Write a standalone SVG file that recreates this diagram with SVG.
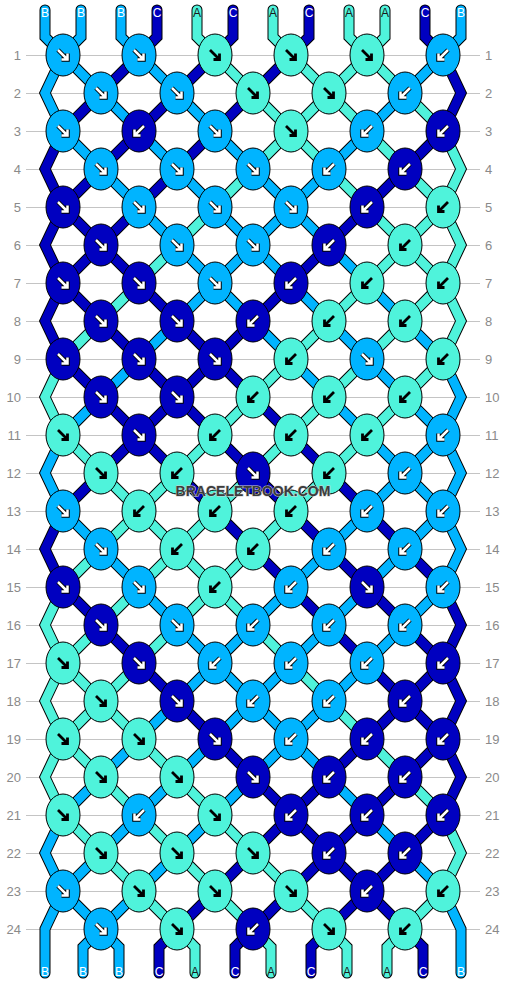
<svg xmlns="http://www.w3.org/2000/svg" xmlns:xlink="http://www.w3.org/1999/xlink" width="506" height="984" viewBox="0 0 506 984">
<style>
.gl{stroke:#c4c4c4;stroke-width:1}
.rn{font-family:"Liberation Sans",Arial,sans-serif;font-size:13px;fill:#8a8a8a}
.rl{text-anchor:end}
.o{fill:none;stroke:#000;stroke-width:11;stroke-linejoin:miter;stroke-linecap:round;stroke-miterlimit:10}
.c{fill:none;stroke-width:9;stroke-linejoin:miter;stroke-linecap:round;stroke-miterlimit:10}
.cA{stroke:#4ff3db}.cB{stroke:#00b4ff}.cC{stroke:#0000c0}
ellipse{stroke:#000;stroke-width:1}
.kA{fill:#4ff3db}.kB{fill:#00b4ff}.kC{fill:#0000c0}
.lb{font-family:"Liberation Sans",Arial,sans-serif;font-size:12px;text-anchor:middle;fill:#fff}
.lA{fill:#1a1a1a}
.wm{font-family:"Liberation Sans",Arial,sans-serif;font-size:14px;font-weight:bold;text-anchor:middle;fill:#3c3c3c;stroke:#d0d0d0;stroke-width:1;paint-order:stroke}
</style>
<defs>
<path id="pf" d="M-5,-5L4.5,4.5M-1.5,4.5H4.5V-1.5" fill="none" stroke-linejoin="miter"/>
<path id="pb" d="M5,-5L-4.5,4.5M1.5,4.5H-4.5V-1.5" fill="none" stroke-linejoin="miter"/>
<g id="wf"><use href="#pf" stroke="#000" stroke-width="4.5"/><use href="#pf" stroke="#fff" stroke-width="2.5"/></g>
<g id="wb"><use href="#pb" stroke="#000" stroke-width="4.5"/><use href="#pb" stroke="#fff" stroke-width="2.5"/></g>
<g id="bf"><use href="#pf" stroke="#000" stroke-width="2.8"/></g>
<g id="bb"><use href="#pb" stroke="#000" stroke-width="2.8"/></g>
</defs>
<rect width="506" height="984" fill="#fff"/>
<g id="grid">
<line class="gl" x1="26" x2="480" y1="55.5" y2="55.5"/><line class="gl" x1="26" x2="480" y1="93.5" y2="93.5"/><line class="gl" x1="26" x2="480" y1="131.5" y2="131.5"/><line class="gl" x1="26" x2="480" y1="169.5" y2="169.5"/><line class="gl" x1="26" x2="480" y1="207.5" y2="207.5"/><line class="gl" x1="26" x2="480" y1="245.5" y2="245.5"/><line class="gl" x1="26" x2="480" y1="283.5" y2="283.5"/><line class="gl" x1="26" x2="480" y1="321.5" y2="321.5"/><line class="gl" x1="26" x2="480" y1="359.5" y2="359.5"/><line class="gl" x1="26" x2="480" y1="397.5" y2="397.5"/><line class="gl" x1="26" x2="480" y1="435.5" y2="435.5"/><line class="gl" x1="26" x2="480" y1="473.5" y2="473.5"/><line class="gl" x1="26" x2="480" y1="511.5" y2="511.5"/><line class="gl" x1="26" x2="480" y1="549.5" y2="549.5"/><line class="gl" x1="26" x2="480" y1="587.5" y2="587.5"/><line class="gl" x1="26" x2="480" y1="625.5" y2="625.5"/><line class="gl" x1="26" x2="480" y1="663.5" y2="663.5"/><line class="gl" x1="26" x2="480" y1="701.5" y2="701.5"/><line class="gl" x1="26" x2="480" y1="739.5" y2="739.5"/><line class="gl" x1="26" x2="480" y1="777.5" y2="777.5"/><line class="gl" x1="26" x2="480" y1="815.5" y2="815.5"/><line class="gl" x1="26" x2="480" y1="853.5" y2="853.5"/><line class="gl" x1="26" x2="480" y1="891.5" y2="891.5"/><line class="gl" x1="26" x2="480" y1="929.5" y2="929.5"/>
<g class="rn rl">
<text x="21" y="60">1</text><text x="21" y="98">2</text><text x="21" y="136">3</text><text x="21" y="174">4</text><text x="21" y="212">5</text><text x="21" y="250">6</text><text x="21" y="288">7</text><text x="21" y="326">8</text><text x="21" y="364">9</text><text x="21" y="402">10</text><text x="21" y="440">11</text><text x="21" y="478">12</text><text x="21" y="516">13</text><text x="21" y="554">14</text><text x="21" y="592">15</text><text x="21" y="630">16</text><text x="21" y="668">17</text><text x="21" y="706">18</text><text x="21" y="744">19</text><text x="21" y="782">20</text><text x="21" y="820">21</text><text x="21" y="858">22</text><text x="21" y="896">23</text><text x="21" y="934">24</text>
</g>
<g class="rn">
<text x="485" y="60">1</text><text x="485" y="98">2</text><text x="485" y="136">3</text><text x="485" y="174">4</text><text x="485" y="212">5</text><text x="485" y="250">6</text><text x="485" y="288">7</text><text x="485" y="326">8</text><text x="485" y="364">9</text><text x="485" y="402">10</text><text x="485" y="440">11</text><text x="485" y="478">12</text><text x="485" y="516">13</text><text x="485" y="554">14</text><text x="485" y="592">15</text><text x="485" y="630">16</text><text x="485" y="668">17</text><text x="485" y="706">18</text><text x="485" y="744">19</text><text x="485" y="782">20</text><text x="485" y="820">21</text><text x="485" y="858">22</text><text x="485" y="896">23</text><text x="485" y="934">24</text>
</g>
</g>
<g id="connectors">
<g id="s0"><polyline class="o" points="45,10 45,37 63,55 443,435 461,473 443,511 63,891 45,929 45,973"/><polyline class="c cB" points="45,10 45,37 63,55 443,435 461,473 443,511 63,891 45,929 45,973"/></g>
<g id="s1"><polyline class="o" points="81,10 81,37 63,55 45,93 63,131 443,511 461,549 443,587 101,929 83,947 83,973"/><polyline class="c cB" points="81,10 81,37 63,55 45,93 63,131 443,511 461,549 443,587 101,929 83,947 83,973"/></g>
<g id="s2"><polyline class="o" points="121,10 121,37 139,55 443,359 461,397 443,435 63,815 45,853 63,891 101,929 119,947 119,973"/><polyline class="c cB" points="121,10 121,37 139,55 443,359 461,397 443,435 63,815 45,853 63,891 101,929 119,947 119,973"/></g>
<g id="s3"><polyline class="o" points="157,10 157,37 139,55 63,131 45,169 63,207 443,587 461,625 443,663 177,929 159,947 159,973"/><polyline class="c cC" points="157,10 157,37 139,55 63,131 45,169 63,207 443,587 461,625 443,663 177,929 159,947 159,973"/></g>
<g id="s4"><polyline class="o" points="197,10 197,37 215,55 443,283 461,321 443,359 63,739 45,777 63,815 177,929 195,947 195,973"/><polyline class="c cA" points="197,10 197,37 215,55 443,283 461,321 443,359 63,739 45,777 63,815 177,929 195,947 195,973"/></g>
<g id="s5"><polyline class="o" points="233,10 233,37 215,55 63,207 45,245 63,283 443,663 461,701 443,739 253,929 235,947 235,973"/><polyline class="c cC" points="233,10 233,37 215,55 63,207 45,245 63,283 443,663 461,701 443,739 253,929 235,947 235,973"/></g>
<g id="s6"><polyline class="o" points="273,10 273,37 291,55 443,207 461,245 443,283 63,663 45,701 63,739 253,929 271,947 271,973"/><polyline class="c cA" points="273,10 273,37 291,55 443,207 461,245 443,283 63,663 45,701 63,739 253,929 271,947 271,973"/></g>
<g id="s7"><polyline class="o" points="309,10 309,37 291,55 63,283 45,321 63,359 443,739 461,777 443,815 329,929 311,947 311,973"/><polyline class="c cC" points="309,10 309,37 291,55 63,283 45,321 63,359 443,739 461,777 443,815 329,929 311,947 311,973"/></g>
<g id="s8"><polyline class="o" points="349,10 349,37 367,55 443,131 461,169 443,207 63,587 45,625 63,663 329,929 347,947 347,973"/><polyline class="c cA" points="349,10 349,37 367,55 443,131 461,169 443,207 63,587 45,625 63,663 329,929 347,947 347,973"/></g>
<g id="s9"><polyline class="o" points="385,10 385,37 367,55 63,359 45,397 63,435 443,815 461,853 443,891 405,929 387,947 387,973"/><polyline class="c cA" points="385,10 385,37 367,55 63,359 45,397 63,435 443,815 461,853 443,891 405,929 387,947 387,973"/></g>
<g id="s10"><polyline class="o" points="425,10 425,37 443,55 461,93 443,131 63,511 45,549 63,587 405,929 423,947 423,973"/><polyline class="c cC" points="425,10 425,37 443,55 461,93 443,131 63,511 45,549 63,587 405,929 423,947 423,973"/></g>
<g id="s11"><polyline class="o" points="461,10 461,37 443,55 63,435 45,473 63,511 443,891 461,929 461,973"/><polyline class="c cB" points="461,10 461,37 443,55 63,435 45,473 63,511 443,891 461,929 461,973"/></g>
</g>
<g id="knots">
<g id="k1_1" transform="translate(63 55)"><ellipse class="kB" rx="17" ry="21"/><use href="#wf"/></g>
<g id="k1_2" transform="translate(139 55)"><ellipse class="kB" rx="17" ry="21"/><use href="#wf"/></g>
<g id="k1_3" transform="translate(215 55)"><ellipse class="kA" rx="17" ry="21"/><use href="#bf"/></g>
<g id="k1_4" transform="translate(291 55)"><ellipse class="kA" rx="17" ry="21"/><use href="#bf"/></g>
<g id="k1_5" transform="translate(367 55)"><ellipse class="kA" rx="17" ry="21"/><use href="#bf"/></g>
<g id="k1_6" transform="translate(443 55)"><ellipse class="kB" rx="17" ry="21"/><use href="#wb"/></g>
<g id="k2_1" transform="translate(101 93)"><ellipse class="kB" rx="17" ry="21"/><use href="#wf"/></g>
<g id="k2_2" transform="translate(177 93)"><ellipse class="kB" rx="17" ry="21"/><use href="#wf"/></g>
<g id="k2_3" transform="translate(253 93)"><ellipse class="kA" rx="17" ry="21"/><use href="#bf"/></g>
<g id="k2_4" transform="translate(329 93)"><ellipse class="kA" rx="17" ry="21"/><use href="#bf"/></g>
<g id="k2_5" transform="translate(405 93)"><ellipse class="kB" rx="17" ry="21"/><use href="#wb"/></g>
<g id="k3_1" transform="translate(63 131)"><ellipse class="kB" rx="17" ry="21"/><use href="#wf"/></g>
<g id="k3_2" transform="translate(139 131)"><ellipse class="kC" rx="17" ry="21"/><use href="#wb"/></g>
<g id="k3_3" transform="translate(215 131)"><ellipse class="kB" rx="17" ry="21"/><use href="#wf"/></g>
<g id="k3_4" transform="translate(291 131)"><ellipse class="kA" rx="17" ry="21"/><use href="#bf"/></g>
<g id="k3_5" transform="translate(367 131)"><ellipse class="kB" rx="17" ry="21"/><use href="#wb"/></g>
<g id="k3_6" transform="translate(443 131)"><ellipse class="kC" rx="17" ry="21"/><use href="#wb"/></g>
<g id="k4_1" transform="translate(101 169)"><ellipse class="kB" rx="17" ry="21"/><use href="#wf"/></g>
<g id="k4_2" transform="translate(177 169)"><ellipse class="kB" rx="17" ry="21"/><use href="#wf"/></g>
<g id="k4_3" transform="translate(253 169)"><ellipse class="kB" rx="17" ry="21"/><use href="#wf"/></g>
<g id="k4_4" transform="translate(329 169)"><ellipse class="kB" rx="17" ry="21"/><use href="#wb"/></g>
<g id="k4_5" transform="translate(405 169)"><ellipse class="kC" rx="17" ry="21"/><use href="#wb"/></g>
<g id="k5_1" transform="translate(63 207)"><ellipse class="kC" rx="17" ry="21"/><use href="#wf"/></g>
<g id="k5_2" transform="translate(139 207)"><ellipse class="kB" rx="17" ry="21"/><use href="#wf"/></g>
<g id="k5_3" transform="translate(215 207)"><ellipse class="kB" rx="17" ry="21"/><use href="#wf"/></g>
<g id="k5_4" transform="translate(291 207)"><ellipse class="kB" rx="17" ry="21"/><use href="#wf"/></g>
<g id="k5_5" transform="translate(367 207)"><ellipse class="kC" rx="17" ry="21"/><use href="#wb"/></g>
<g id="k5_6" transform="translate(443 207)"><ellipse class="kA" rx="17" ry="21"/><use href="#bb"/></g>
<g id="k6_1" transform="translate(101 245)"><ellipse class="kC" rx="17" ry="21"/><use href="#wf"/></g>
<g id="k6_2" transform="translate(177 245)"><ellipse class="kB" rx="17" ry="21"/><use href="#wf"/></g>
<g id="k6_3" transform="translate(253 245)"><ellipse class="kB" rx="17" ry="21"/><use href="#wf"/></g>
<g id="k6_4" transform="translate(329 245)"><ellipse class="kC" rx="17" ry="21"/><use href="#wb"/></g>
<g id="k6_5" transform="translate(405 245)"><ellipse class="kA" rx="17" ry="21"/><use href="#bb"/></g>
<g id="k7_1" transform="translate(63 283)"><ellipse class="kC" rx="17" ry="21"/><use href="#wf"/></g>
<g id="k7_2" transform="translate(139 283)"><ellipse class="kC" rx="17" ry="21"/><use href="#wf"/></g>
<g id="k7_3" transform="translate(215 283)"><ellipse class="kB" rx="17" ry="21"/><use href="#wf"/></g>
<g id="k7_4" transform="translate(291 283)"><ellipse class="kC" rx="17" ry="21"/><use href="#wb"/></g>
<g id="k7_5" transform="translate(367 283)"><ellipse class="kA" rx="17" ry="21"/><use href="#bb"/></g>
<g id="k7_6" transform="translate(443 283)"><ellipse class="kA" rx="17" ry="21"/><use href="#bb"/></g>
<g id="k8_1" transform="translate(101 321)"><ellipse class="kC" rx="17" ry="21"/><use href="#wf"/></g>
<g id="k8_2" transform="translate(177 321)"><ellipse class="kC" rx="17" ry="21"/><use href="#wf"/></g>
<g id="k8_3" transform="translate(253 321)"><ellipse class="kC" rx="17" ry="21"/><use href="#wb"/></g>
<g id="k8_4" transform="translate(329 321)"><ellipse class="kA" rx="17" ry="21"/><use href="#bb"/></g>
<g id="k8_5" transform="translate(405 321)"><ellipse class="kA" rx="17" ry="21"/><use href="#bb"/></g>
<g id="k9_1" transform="translate(63 359)"><ellipse class="kC" rx="17" ry="21"/><use href="#wf"/></g>
<g id="k9_2" transform="translate(139 359)"><ellipse class="kC" rx="17" ry="21"/><use href="#wf"/></g>
<g id="k9_3" transform="translate(215 359)"><ellipse class="kC" rx="17" ry="21"/><use href="#wf"/></g>
<g id="k9_4" transform="translate(291 359)"><ellipse class="kA" rx="17" ry="21"/><use href="#bb"/></g>
<g id="k9_5" transform="translate(367 359)"><ellipse class="kB" rx="17" ry="21"/><use href="#wf"/></g>
<g id="k9_6" transform="translate(443 359)"><ellipse class="kA" rx="17" ry="21"/><use href="#bb"/></g>
<g id="k10_1" transform="translate(101 397)"><ellipse class="kC" rx="17" ry="21"/><use href="#wf"/></g>
<g id="k10_2" transform="translate(177 397)"><ellipse class="kC" rx="17" ry="21"/><use href="#wf"/></g>
<g id="k10_3" transform="translate(253 397)"><ellipse class="kA" rx="17" ry="21"/><use href="#bb"/></g>
<g id="k10_4" transform="translate(329 397)"><ellipse class="kA" rx="17" ry="21"/><use href="#bb"/></g>
<g id="k10_5" transform="translate(405 397)"><ellipse class="kA" rx="17" ry="21"/><use href="#bb"/></g>
<g id="k11_1" transform="translate(63 435)"><ellipse class="kA" rx="17" ry="21"/><use href="#bf"/></g>
<g id="k11_2" transform="translate(139 435)"><ellipse class="kC" rx="17" ry="21"/><use href="#wf"/></g>
<g id="k11_3" transform="translate(215 435)"><ellipse class="kA" rx="17" ry="21"/><use href="#bb"/></g>
<g id="k11_4" transform="translate(291 435)"><ellipse class="kA" rx="17" ry="21"/><use href="#bb"/></g>
<g id="k11_5" transform="translate(367 435)"><ellipse class="kA" rx="17" ry="21"/><use href="#bb"/></g>
<g id="k11_6" transform="translate(443 435)"><ellipse class="kB" rx="17" ry="21"/><use href="#wb"/></g>
<g id="k12_1" transform="translate(101 473)"><ellipse class="kA" rx="17" ry="21"/><use href="#bf"/></g>
<g id="k12_2" transform="translate(177 473)"><ellipse class="kA" rx="17" ry="21"/><use href="#bb"/></g>
<g id="k12_3" transform="translate(253 473)"><ellipse class="kC" rx="17" ry="21"/><use href="#wf"/></g>
<g id="k12_4" transform="translate(329 473)"><ellipse class="kA" rx="17" ry="21"/><use href="#bb"/></g>
<g id="k12_5" transform="translate(405 473)"><ellipse class="kB" rx="17" ry="21"/><use href="#wb"/></g>
<g id="k13_1" transform="translate(63 511)"><ellipse class="kB" rx="17" ry="21"/><use href="#wf"/></g>
<g id="k13_2" transform="translate(139 511)"><ellipse class="kA" rx="17" ry="21"/><use href="#bb"/></g>
<g id="k13_3" transform="translate(215 511)"><ellipse class="kA" rx="17" ry="21"/><use href="#bb"/></g>
<g id="k13_4" transform="translate(291 511)"><ellipse class="kA" rx="17" ry="21"/><use href="#bb"/></g>
<g id="k13_5" transform="translate(367 511)"><ellipse class="kB" rx="17" ry="21"/><use href="#wb"/></g>
<g id="k13_6" transform="translate(443 511)"><ellipse class="kB" rx="17" ry="21"/><use href="#wb"/></g>
<g id="k14_1" transform="translate(101 549)"><ellipse class="kB" rx="17" ry="21"/><use href="#wf"/></g>
<g id="k14_2" transform="translate(177 549)"><ellipse class="kA" rx="17" ry="21"/><use href="#bb"/></g>
<g id="k14_3" transform="translate(253 549)"><ellipse class="kA" rx="17" ry="21"/><use href="#bb"/></g>
<g id="k14_4" transform="translate(329 549)"><ellipse class="kB" rx="17" ry="21"/><use href="#wb"/></g>
<g id="k14_5" transform="translate(405 549)"><ellipse class="kB" rx="17" ry="21"/><use href="#wb"/></g>
<g id="k15_1" transform="translate(63 587)"><ellipse class="kC" rx="17" ry="21"/><use href="#wf"/></g>
<g id="k15_2" transform="translate(139 587)"><ellipse class="kB" rx="17" ry="21"/><use href="#wf"/></g>
<g id="k15_3" transform="translate(215 587)"><ellipse class="kA" rx="17" ry="21"/><use href="#bb"/></g>
<g id="k15_4" transform="translate(291 587)"><ellipse class="kB" rx="17" ry="21"/><use href="#wb"/></g>
<g id="k15_5" transform="translate(367 587)"><ellipse class="kC" rx="17" ry="21"/><use href="#wf"/></g>
<g id="k15_6" transform="translate(443 587)"><ellipse class="kB" rx="17" ry="21"/><use href="#wb"/></g>
<g id="k16_1" transform="translate(101 625)"><ellipse class="kC" rx="17" ry="21"/><use href="#wf"/></g>
<g id="k16_2" transform="translate(177 625)"><ellipse class="kB" rx="17" ry="21"/><use href="#wf"/></g>
<g id="k16_3" transform="translate(253 625)"><ellipse class="kB" rx="17" ry="21"/><use href="#wb"/></g>
<g id="k16_4" transform="translate(329 625)"><ellipse class="kB" rx="17" ry="21"/><use href="#wb"/></g>
<g id="k16_5" transform="translate(405 625)"><ellipse class="kB" rx="17" ry="21"/><use href="#wb"/></g>
<g id="k17_1" transform="translate(63 663)"><ellipse class="kA" rx="17" ry="21"/><use href="#bf"/></g>
<g id="k17_2" transform="translate(139 663)"><ellipse class="kC" rx="17" ry="21"/><use href="#wf"/></g>
<g id="k17_3" transform="translate(215 663)"><ellipse class="kB" rx="17" ry="21"/><use href="#wb"/></g>
<g id="k17_4" transform="translate(291 663)"><ellipse class="kB" rx="17" ry="21"/><use href="#wb"/></g>
<g id="k17_5" transform="translate(367 663)"><ellipse class="kB" rx="17" ry="21"/><use href="#wb"/></g>
<g id="k17_6" transform="translate(443 663)"><ellipse class="kC" rx="17" ry="21"/><use href="#wb"/></g>
<g id="k18_1" transform="translate(101 701)"><ellipse class="kA" rx="17" ry="21"/><use href="#bf"/></g>
<g id="k18_2" transform="translate(177 701)"><ellipse class="kC" rx="17" ry="21"/><use href="#wf"/></g>
<g id="k18_3" transform="translate(253 701)"><ellipse class="kB" rx="17" ry="21"/><use href="#wb"/></g>
<g id="k18_4" transform="translate(329 701)"><ellipse class="kB" rx="17" ry="21"/><use href="#wb"/></g>
<g id="k18_5" transform="translate(405 701)"><ellipse class="kC" rx="17" ry="21"/><use href="#wb"/></g>
<g id="k19_1" transform="translate(63 739)"><ellipse class="kA" rx="17" ry="21"/><use href="#bf"/></g>
<g id="k19_2" transform="translate(139 739)"><ellipse class="kA" rx="17" ry="21"/><use href="#bf"/></g>
<g id="k19_3" transform="translate(215 739)"><ellipse class="kC" rx="17" ry="21"/><use href="#wf"/></g>
<g id="k19_4" transform="translate(291 739)"><ellipse class="kB" rx="17" ry="21"/><use href="#wb"/></g>
<g id="k19_5" transform="translate(367 739)"><ellipse class="kC" rx="17" ry="21"/><use href="#wb"/></g>
<g id="k19_6" transform="translate(443 739)"><ellipse class="kC" rx="17" ry="21"/><use href="#wb"/></g>
<g id="k20_1" transform="translate(101 777)"><ellipse class="kA" rx="17" ry="21"/><use href="#bf"/></g>
<g id="k20_2" transform="translate(177 777)"><ellipse class="kA" rx="17" ry="21"/><use href="#bf"/></g>
<g id="k20_3" transform="translate(253 777)"><ellipse class="kC" rx="17" ry="21"/><use href="#wf"/></g>
<g id="k20_4" transform="translate(329 777)"><ellipse class="kC" rx="17" ry="21"/><use href="#wb"/></g>
<g id="k20_5" transform="translate(405 777)"><ellipse class="kC" rx="17" ry="21"/><use href="#wb"/></g>
<g id="k21_1" transform="translate(63 815)"><ellipse class="kA" rx="17" ry="21"/><use href="#bf"/></g>
<g id="k21_2" transform="translate(139 815)"><ellipse class="kB" rx="17" ry="21"/><use href="#wb"/></g>
<g id="k21_3" transform="translate(215 815)"><ellipse class="kA" rx="17" ry="21"/><use href="#bf"/></g>
<g id="k21_4" transform="translate(291 815)"><ellipse class="kC" rx="17" ry="21"/><use href="#wb"/></g>
<g id="k21_5" transform="translate(367 815)"><ellipse class="kC" rx="17" ry="21"/><use href="#wb"/></g>
<g id="k21_6" transform="translate(443 815)"><ellipse class="kC" rx="17" ry="21"/><use href="#wb"/></g>
<g id="k22_1" transform="translate(101 853)"><ellipse class="kA" rx="17" ry="21"/><use href="#bf"/></g>
<g id="k22_2" transform="translate(177 853)"><ellipse class="kA" rx="17" ry="21"/><use href="#bf"/></g>
<g id="k22_3" transform="translate(253 853)"><ellipse class="kA" rx="17" ry="21"/><use href="#bf"/></g>
<g id="k22_4" transform="translate(329 853)"><ellipse class="kC" rx="17" ry="21"/><use href="#wb"/></g>
<g id="k22_5" transform="translate(405 853)"><ellipse class="kC" rx="17" ry="21"/><use href="#wb"/></g>
<g id="k23_1" transform="translate(63 891)"><ellipse class="kB" rx="17" ry="21"/><use href="#wf"/></g>
<g id="k23_2" transform="translate(139 891)"><ellipse class="kA" rx="17" ry="21"/><use href="#bf"/></g>
<g id="k23_3" transform="translate(215 891)"><ellipse class="kA" rx="17" ry="21"/><use href="#bf"/></g>
<g id="k23_4" transform="translate(291 891)"><ellipse class="kA" rx="17" ry="21"/><use href="#bf"/></g>
<g id="k23_5" transform="translate(367 891)"><ellipse class="kC" rx="17" ry="21"/><use href="#wb"/></g>
<g id="k23_6" transform="translate(443 891)"><ellipse class="kA" rx="17" ry="21"/><use href="#bb"/></g>
<g id="k24_1" transform="translate(101 929)"><ellipse class="kB" rx="17" ry="21"/><use href="#wf"/></g>
<g id="k24_2" transform="translate(177 929)"><ellipse class="kA" rx="17" ry="21"/><use href="#bf"/></g>
<g id="k24_3" transform="translate(253 929)"><ellipse class="kC" rx="17" ry="21"/><use href="#wb"/></g>
<g id="k24_4" transform="translate(329 929)"><ellipse class="kA" rx="17" ry="21"/><use href="#bf"/></g>
<g id="k24_5" transform="translate(405 929)"><ellipse class="kA" rx="17" ry="21"/><use href="#bb"/></g>
</g>
<g id="labels" class="lb">
<text x="45" y="17">B</text><text x="81" y="17">B</text><text x="121" y="17">B</text><text x="157" y="17">C</text><text x="197" y="17" class="lA">A</text><text x="233" y="17">C</text><text x="273" y="17" class="lA">A</text><text x="309" y="17">C</text><text x="349" y="17" class="lA">A</text><text x="385" y="17" class="lA">A</text><text x="425" y="17">C</text><text x="461" y="17">B</text>
<text x="45" y="976">B</text><text x="83" y="976">B</text><text x="119" y="976">B</text><text x="159" y="976">C</text><text x="195" y="976" class="lA">A</text><text x="235" y="976">C</text><text x="271" y="976" class="lA">A</text><text x="311" y="976">C</text><text x="347" y="976" class="lA">A</text><text x="387" y="976" class="lA">A</text><text x="423" y="976">C</text><text x="461" y="976">B</text>
</g>
<text class="wm" x="253" y="496">BRACELETBOOK.COM</text>
</svg>
